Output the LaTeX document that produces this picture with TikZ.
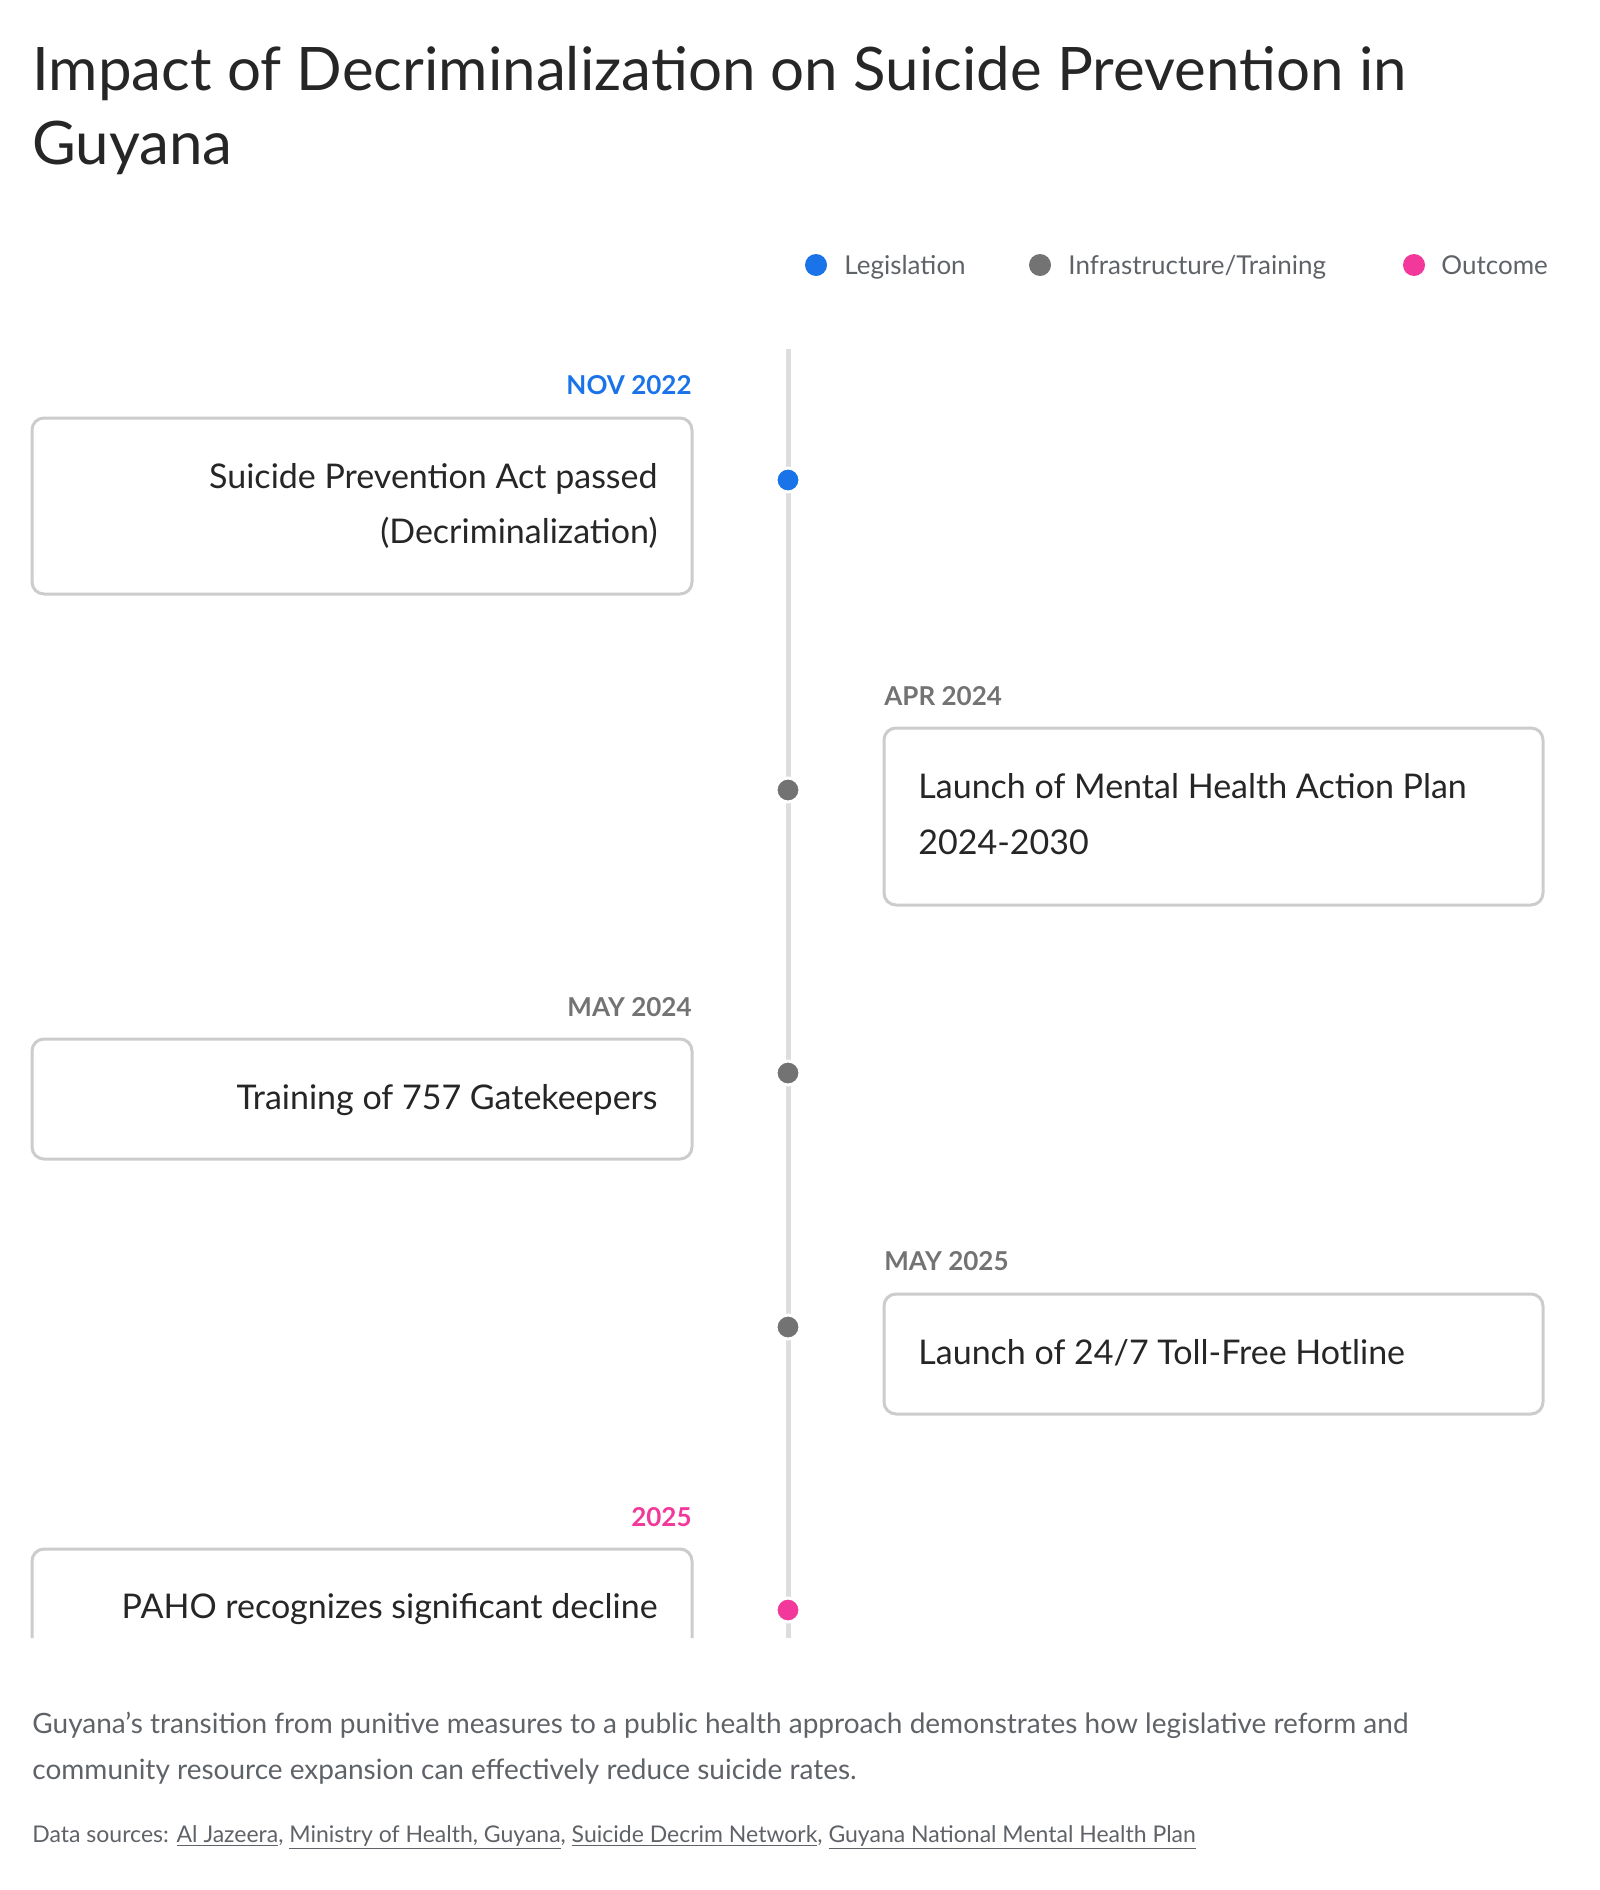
\documentclass[tikz,border=0pt]{standalone}
\usepackage{fontspec}
\setmainfont{Lato}
\usetikzlibrary{positioning}
\definecolor{legblue}{HTML}{1A73E8}
\definecolor{infgrey}{HTML}{737373}
\definecolor{outpink}{HTML}{F2399B}
\definecolor{boxline}{HTML}{CCCCCC}
\definecolor{railgrey}{HTML}{DDDDDD}
\definecolor{bodygrey}{HTML}{5F6368}
\tikzstyle{event} = [draw=boxline, line width=1.5pt, rounded corners=6pt, fill=white]
\tikzstyle{evtext} = [inner sep=0pt, font=\fontsize{17}{20}\selectfont, text=black!85]
\tikzstyle{date} = [inner sep=0pt, font=\fontsize{13}{15}\selectfont\bfseries]
\tikzstyle{dot} = [circle, inner sep=0pt, minimum size=12pt, draw=white, line width=1.5pt]
\tikzstyle{legtext} = [inner sep=0pt, anchor=base west, font=\fontsize{13}{15}\selectfont, text=bodygrey]
\begin{document}
\begin{tikzpicture}[x=0.5pt, y=-0.5pt]
\useasboundingbox (0,0) rectangle (1600,1890);
% Title
\node (title1) [inner sep=0pt, anchor=base west, font=\fontsize{30}{36}\selectfont, text=black!85] at (32,90) {Impact of Decriminalization on Suicide Prevention in};
\node (title2) [inner sep=0pt, anchor=base west, font=\fontsize{30}{36}\selectfont, text=black!85] at (32,164) {Guyana};
% Legend
\node (ldot1) [dot, fill=legblue, draw=none, minimum size=11pt] at (816,265) {};
\node (ltxt1) [legtext] at (844,274) {Legislation};
\node (ldot2) [dot, fill=infgrey, draw=none, minimum size=11pt] at (1040,265) {};
\node (ltxt2) [legtext] at (1068,274) {Infrastructure/Training};
\node (ldot3) [dot, fill=outpink, draw=none, minimum size=11pt] at (1414,265) {};
\node (ltxt3) [legtext] at (1441,274) {Outcome};
% Rail
\coordinate (top) at (788,349);
\coordinate (bot) at (788,1638);
\draw [railgrey, line width=2.5pt] (top) -- (bot);
% Event 1
\node (d1) [date, anchor=base east, text=legblue] at (692,394) {NOV 2022};
\draw [event] (32,418) rectangle (692,594);
\node (e1a) [evtext, anchor=base east] at (658,488) {Suicide Prevention Act passed};
\node (e1b) [evtext, anchor=base east] at (658,543) {(Decriminalization)};
\node (p1) [dot, fill=legblue] at (788,480) {};
% Event 2
\node (d2) [date, anchor=base west, text=infgrey] at (884,705) {APR 2024};
\draw [event] (884,728) rectangle (1543,905);
\node (e2a) [evtext, anchor=base west] at (918,798) {Launch of Mental Health Action Plan};
\node (e2b) [evtext, anchor=base west] at (918,854) {2024-2030};
\node (p2) [dot, fill=infgrey] at (788,790) {};
% Event 3
\node (d3) [date, anchor=base east, text=infgrey] at (692,1016) {MAY 2024};
\draw [event] (32,1039) rectangle (692,1159);
\node (e3) [evtext, anchor=base east] at (658,1109) {Training of 757 Gatekeepers};
\node (p3) [dot, fill=infgrey] at (788,1073) {};
% Event 4
\node (d4) [date, anchor=base west, text=infgrey] at (884,1270) {MAY 2025};
\draw [event] (884,1294) rectangle (1543,1414);
\node (e4) [evtext, anchor=base west] at (918,1364) {Launch of 24/7 Toll-Free Hotline};
\node (p4) [dot, fill=infgrey] at (788,1327) {};
% Event 5 (cut off at the bottom)
\node (d5) [date, anchor=base east, text=outpink] at (692,1526) {2025};
\draw [event] (32,1638) -- (32,1549) -- (692,1549) -- (692,1638);
\node (e5) [evtext, anchor=base east] at (658,1618) {PAHO recognizes significant decline};
\node (p5) [dot, fill=outpink] at (788,1610) {};
% Footer
\node (sum1) [inner sep=0pt, anchor=base west, font=\fontsize{14}{17}\selectfont, text=bodygrey] at (32,1733) {Guyana’s transition from punitive measures to a public health approach demonstrates how legislative reform and};
\node (sum2) [inner sep=0pt, anchor=base west, font=\fontsize{14}{17}\selectfont, text=bodygrey] at (32,1779) {community resource expansion can effectively reduce suicide rates.};
\node (src) [inner sep=0pt, anchor=base west, font=\fontsize{11.5}{14}\selectfont, text=bodygrey] at (32,1842) {Data sources: \underline{Al Jazeera}, \underline{Ministry of Health, Guyana}, \underline{Suicide Decrim Network}, \underline{Guyana National Mental Health Plan}};
\end{tikzpicture}
\end{document}
